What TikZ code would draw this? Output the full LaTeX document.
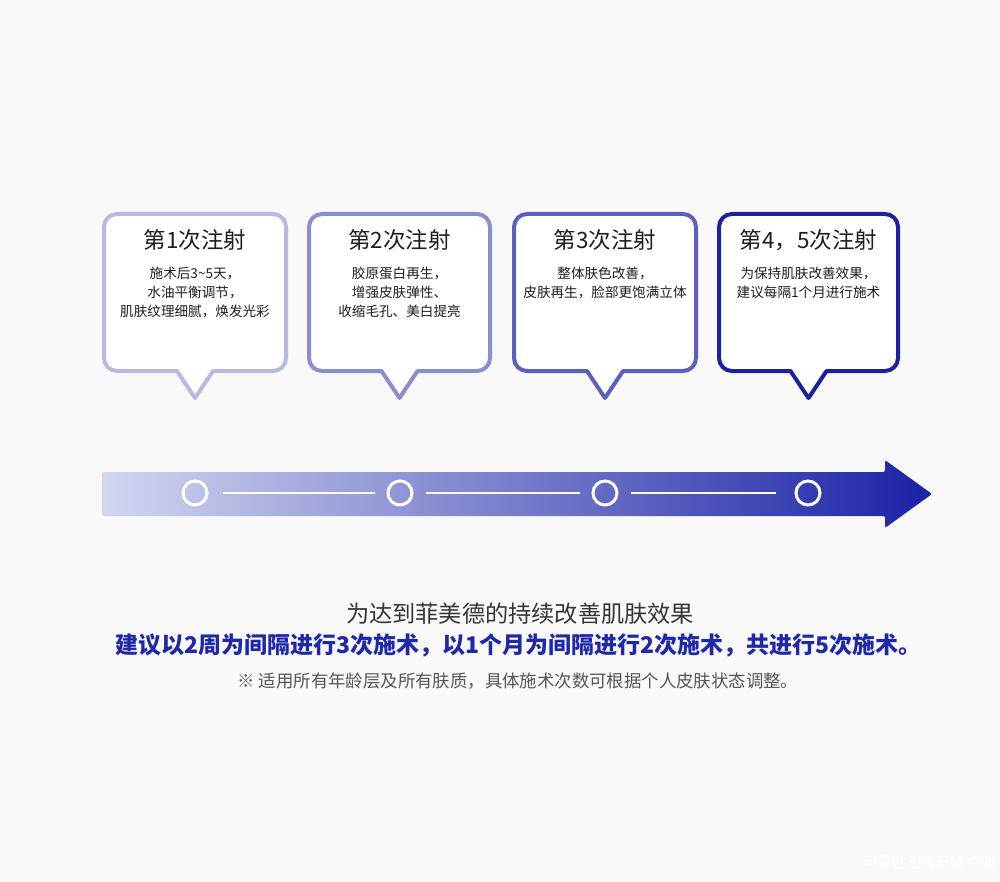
\documentclass[tikz,border=0pt]{standalone}
\usepackage{fontspec}
\setmainfont{Noto Sans CJK SC}
\newfontfamily\krfont{Noto Sans CJK KR}
\usetikzlibrary{calc}
\definecolor{bgc}{HTML}{F9F9FA}
\definecolor{cA}{HTML}{B6BAE3}
\definecolor{cB}{HTML}{898ED1}
\definecolor{cC}{HTML}{5A60C0}
\definecolor{cD}{HTML}{1B22A0}
\definecolor{arrL}{HTML}{D3D6EF}
\definecolor{arrR}{HTML}{1A22A6}
\definecolor{txt}{HTML}{1E1E1E}
\definecolor{gtxt}{HTML}{555555}
\definecolor{blu}{HTML}{1E28A8}
\tikzset{
  callout/.style={line width=4pt, fill=white, line join=round},
  ttl/.style={font=\fontsize{22.5}{24}\selectfont, text=txt, inner sep=0pt},
  bdy/.style={font=\fontsize{13.6}{19}\selectfont, text=txt, align=center, inner sep=0pt},
  dot/.style={circle, draw=white, line width=3pt, minimum size=24pt, inner sep=0pt},
  link/.style={draw=white, line width=2pt},
}
\begin{document}
\begin{tikzpicture}[x=1pt,y=-1pt]
\fill[bgc] (0,0) rectangle (1000,882);
\useasboundingbox (0,0) rectangle (1000,882);

% callouts
\foreach \L/\R/\C/\col in {104/286/195/cA, 309/490/399.5/cB, 514/696/605/cC, 719/898/808.5/cD}{
  \draw[callout, draw=\col] (\C,398) -- (\C+18,371) [rounded corners=13] -- (\R,371) -- (\R,214) -- (\L,214) -- (\L,371) [sharp corners] -- (\C-18,371) -- cycle;
}

\node[ttl] (t1) at (195,240) {第1次注射};
\node[ttl] (t2) at (399.5,240) {第2次注射};
\node[ttl] (t3) at (605,240) {第3次注射};
\node[ttl] (t4) at (808.5,240) {第4，5次注射};

\node[bdy] (b1) at (195,292.5) {施术后3\textasciitilde5天，\\水油平衡调节，\\肌肤纹理细腻，焕发光彩};
\node[bdy] (b2) at (399.5,292.5) {胶原蛋白再生，\\增强皮肤弹性、\\收缩毛孔、美白提亮};
\node[bdy] (b3) at (605,283) {整体肤色改善，\\皮肤再生，脸部更饱满立体};
\node[bdy] (b4) at (808.5,283) {为保持肌肤改善效果，\\建议每隔1个月进行施术};

% arrow
\shade[left color=arrL, right color=arrR, line join=round, rounded corners=1.5]
  (102,472) -- (885,472) -- (885,460) -- (932,494) -- (885,528) -- (885,516) -- (102,516) -- cycle;

\node[dot] (d1) at (195,493) {};
\node[dot] (d2) at (400,493) {};
\node[dot] (d3) at (605,493) {};
\node[dot] (d4) at (808,493) {};
\draw[link, shorten <=28pt, shorten >=25pt] (d1.center) -- (d2.center);
\draw[link, shorten <=26pt, shorten >=25pt] (d2.center) -- (d3.center);
\draw[link, shorten <=26pt, shorten >=32pt] (d3.center) -- (d4.center);

% bottom text
\node[font=\fontsize{23.2}{24}\selectfont, text=txt!90, inner sep=0pt] (m1) at (520,614) {为达到菲美德的持续改善肌肤效果};
\node[font=\fontsize{23}{24}\selectfont\bfseries, text=blu, inner sep=0pt] (m2) at (518.5,645) {建议以2周为间隔进行3次施术，以1个月为间隔进行2次施术，共进行5次施术。};
\node[font=\fontsize{17.4}{20}\selectfont, text=gtxt, inner sep=0pt] (m3) at (518,681) {※ 适用所有年龄层及所有肤质，具体施术次数可根据个人皮肤状态调整。};

\node[font=\krfont\fontsize{15}{18}\selectfont, text=white, inner sep=0pt, anchor=east] (wm) at (995,862) {리쥬란 전속모델 수애};
\end{tikzpicture}
\end{document}
